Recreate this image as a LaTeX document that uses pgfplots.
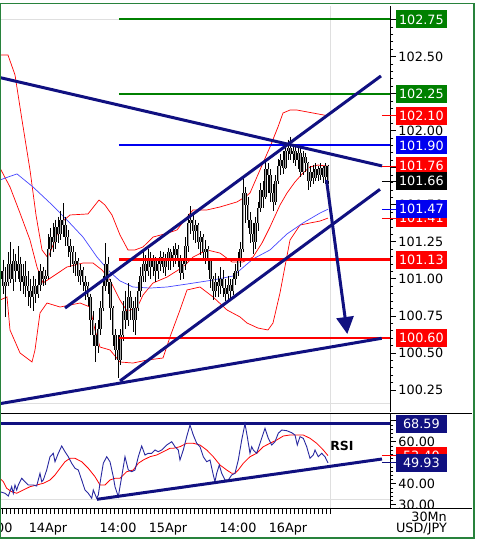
\documentclass[border=0pt]{standalone}
\usepackage{pgfplots}
\pgfplotsset{compat=1.18}
\usepackage{pgfplotstable}
\usepackage{fontspec}
\setmainfont{DejaVu Sans}
\usetikzlibrary{arrows.meta}

\definecolor{navy}{RGB}{16,16,128}
\definecolor{lvgreen}{RGB}{0,128,0}
\definecolor{lvblue}{RGB}{0,0,240}
\definecolor{lvred}{RGB}{255,0,0}
\definecolor{bandblue}{RGB}{70,70,255}
\definecolor{rsiblue}{RGB}{40,40,160}
\definecolor{framegreen}{RGB}{40,130,60}
\definecolor{candlegray}{RGB}{165,165,165}

\newcommand\lab{\fontsize{12.8bp}{14bp}\selectfont}

\pgfplotstableread{
x o h l c
-9.5 101.00 101.12 100.88 101.05
-9.0 101.05 101.13 100.90 100.95
-8.5 100.95 101.08 100.74 100.98
-8.0 100.98 101.18 100.95 101.10
-7.5 101.10 101.25 100.97 101.00
-7.0 101.00 101.20 100.92 101.12
-6.5 101.12 101.17 100.98 101.05
-6.0 101.05 101.22 101.00 101.10
-5.5 101.10 101.15 100.92 100.98
-5.0 100.98 101.10 100.90 101.02
-4.5 101.02 101.12 100.88 100.95
-4.0 100.95 101.05 100.82 100.92
-3.5 100.92 101.00 100.80 100.88
-3.0 100.88 101.02 100.78 100.95
-2.5 100.95 101.00 100.84 100.90
-2.0 100.90 101.05 100.87 100.96
-1.5 100.96 101.10 100.92 101.05
-1.0 101.05 101.08 100.95 101.00
-0.5 101.00 101.06 100.96 101.02
0.0 101.02 101.30 101.00 101.20
0.5 101.20 101.34 101.15 101.28
1.0 101.28 101.38 101.18 101.25
1.5 101.25 101.40 101.20 101.35
2.0 101.35 101.42 101.24 101.30
2.5 101.30 101.46 101.26 101.40
3.0 101.40 101.51 101.28 101.36
3.5 101.36 101.42 101.22 101.28
4.0 101.28 101.33 101.15 101.22
4.5 101.22 101.27 101.08 101.18
5.0 101.18 101.22 101.04 101.10
5.5 101.10 101.18 101.02 101.12
6.0 101.12 101.14 100.98 101.02
6.5 101.02 101.10 100.96 101.06
7.0 101.06 101.08 100.92 100.98
7.5 100.98 101.02 100.86 100.95
8.0 100.95 100.98 100.82 100.88
8.5 100.88 100.90 100.62 100.72
9.0 100.72 100.78 100.55 100.62
9.5 100.62 100.70 100.44 100.55
10.0 100.55 100.72 100.50 100.66
10.5 100.66 100.85 100.62 100.80
11.0 100.80 101.02 100.78 100.95
11.5 100.95 101.24 100.92 101.10
12.0 101.10 101.15 100.90 100.98
12.5 100.98 101.00 100.72 100.80
13.0 100.80 100.82 100.55 100.62
13.5 100.62 100.66 100.45 100.52
14.0 100.52 100.62 100.33 100.45
14.5 100.45 100.66 100.42 100.62
15.0 100.62 100.85 100.58 100.78
15.5 100.78 100.92 100.66 100.72
16.0 100.72 100.97 100.68 100.88
16.5 100.88 100.92 100.72 100.80
17.0 100.80 100.85 100.64 100.72
17.5 100.72 100.88 100.62 100.80
18.0 100.80 100.98 100.78 100.92
18.5 100.92 101.08 100.88 101.02
19.0 101.02 101.18 100.98 101.10
19.5 101.10 101.16 100.98 101.05
20.0 101.05 101.20 101.02 101.14
20.5 101.14 101.18 101.00 101.08
21.0 101.08 101.16 101.02 101.12
21.5 101.12 101.15 100.98 101.05
22.0 101.05 101.14 101.00 101.10
22.5 101.10 101.19 101.05 101.15
23.0 101.15 101.18 101.04 101.08
23.5 101.08 101.17 101.02 101.12
24.0 101.12 101.21 101.06 101.18
24.5 101.18 101.20 101.06 101.12
25.0 101.12 101.22 101.08 101.16
25.5 101.16 101.24 101.10 101.20
26.0 101.20 101.23 101.08 101.14
26.5 101.14 101.16 100.99 101.04
27.0 101.04 101.14 101.00 101.10
27.5 101.10 101.28 101.06 101.22
28.0 101.22 101.44 101.18 101.38
28.5 101.38 101.49 101.30 101.40
29.0 101.40 101.43 101.26 101.32
29.5 101.32 101.40 101.24 101.36
30.0 101.36 101.38 101.20 101.25
30.5 101.25 101.32 101.16 101.28
31.0 101.28 101.30 101.12 101.18
31.5 101.18 101.26 101.10 101.20
32.0 101.20 101.22 101.06 101.12
32.5 101.12 101.14 100.94 101.00
33.0 101.00 101.02 100.86 100.92
33.5 100.92 101.04 100.88 100.98
34.0 100.98 101.02 100.88 100.95
34.5 100.95 101.08 100.90 101.00
35.0 101.00 101.06 100.88 100.94
35.5 100.94 101.00 100.85 100.90
36.0 100.90 101.02 100.86 100.96
36.5 100.96 101.00 100.87 100.92
37.0 100.92 101.04 100.89 101.00
37.5 101.00 101.10 100.96 101.05
38.0 101.05 101.18 101.02 101.12
38.5 101.12 101.25 101.08 101.20
39.0 101.20 101.69 101.18 101.58
39.5 101.58 101.62 101.38 101.50
40.0 101.50 101.55 101.34 101.40
40.5 101.40 101.45 101.24 101.30
41.0 101.30 101.38 101.17 101.25
41.5 101.25 101.42 101.20 101.38
42.0 101.38 101.52 101.32 101.48
42.5 101.48 101.65 101.45 101.60
43.0 101.60 101.66 101.48 101.55
43.5 101.55 101.80 101.54 101.74
44.0 101.74 101.78 101.58 101.70
44.5 101.70 101.74 101.52 101.58
45.0 101.58 101.64 101.46 101.52
45.5 101.52 101.70 101.50 101.66
46.0 101.66 101.81 101.64 101.76
46.5 101.76 101.84 101.70 101.80
47.0 101.80 101.86 101.71 101.75
47.5 101.75 101.90 101.74 101.86
48.0 101.86 101.94 101.80 101.88
48.5 101.88 101.96 101.80 101.84
49.0 101.84 101.91 101.78 101.86
49.5 101.86 101.89 101.76 101.80
50.0 101.80 101.90 101.74 101.85
50.5 101.85 101.88 101.69 101.72
51.0 101.72 101.86 101.70 101.82
51.5 101.82 101.85 101.72 101.78
52.0 101.78 101.79 101.60 101.66
52.5 101.66 101.76 101.62 101.72
53.0 101.72 101.77 101.64 101.68
53.5 101.68 101.78 101.66 101.74
54.0 101.74 101.76 101.66 101.70
54.5 101.70 101.78 101.67 101.75
55.0 101.75 101.76 101.65 101.69
55.5 101.69 101.78 101.64 101.76
56.0 101.76 101.77 101.64 101.66
}\candles

\begin{document}
\begin{tikzpicture}
\useasboundingbox (0,0) rectangle (477bp,539bp);

% ---------------- price panel ----------------
\begin{axis}[
  at={(0bp,127bp)}, anchor=south west, scale only axis,
  width=390bp, height=406bp,
  xmin=-9.6, xmax=68.4, ymin=100.1016, ymax=102.8411,
  axis x line=none, axis y line=right,
  axis line style={-, line width=0.8bp},
  clip mode=individual,
  ytick={100.25,100.50,100.75,101.00,101.25,101.50,101.75,102.00,102.25,102.50,102.75},
  yticklabels={100.25,100.50,100.75,101.00,101.25,101.50,101.75,102.00,102.25,102.50,102.75},
  minor y tick num=4,
  tick align=outside, major tick length=6bp, minor tick length=3.3bp,
  tick style={black, line width=0.8bp},
  /pgf/number format/assume math mode=true,
  yticklabel style={font=\lab, anchor=west, inner sep=0pt, xshift=2.3bp},
]
% faint pane lines
\addplot[gray!25, line width=0.8bp] coordinates {(-9.6,102.75) (14.2,102.75)};
\addplot[gray!25, line width=0.8bp] coordinates {(-9.6,100.162) (68.4,100.162)};
\addplot[gray!25, line width=0.8bp] coordinates {(56.4,100.1016) (56.4,102.8411)};
% Bollinger bands and moving average
\addplot[lvred, line width=0.7bp] coordinates {(-9.6,102.510)(-8,102.510)(-6.6,102.376)(-5.2,102.072)(-3.6,101.735)(-2.4,101.431)(-1.2,101.195)(0,101.141)(1.4,101.262)(2.8,101.384)(4.4,101.431)(8,101.438)(9.4,101.498)(10.2,101.532)(11.4,101.498)(12.8,101.431)(14.4,101.296)(16,101.195)(17.4,101.195)(19,101.215)(21,101.282)(24,101.309)(25.8,101.330)(27.8,101.417)(29,101.465)(31.8,101.465)(34.4,101.485)(37.8,101.519)(39.4,101.552)(40.4,101.579)(42.4,101.735)(44.4,101.890)(46,102.025)(47,102.119)(48.4,102.139)(49.8,102.139)(53,102.119)(56,102.10)};
\addplot[lvred, line width=0.7bp] coordinates {(-9.6,101.748)(-7.6,101.620)(-5.6,101.444)(-3.6,101.262)(-2.2,101.080)(-1,100.972)(1.4,101.026)(3.8,101.080)(7,101.107)(9,101.107)(10.8,101.060)(12.4,100.992)(14.4,100.857)(15.8,100.783)(17.8,100.803)(19,100.891)(21,100.972)(23.8,101.012)(27,101.080)(29,101.147)(31.8,101.195)(34.4,101.174)(36.8,101.114)(39,101.114)(41,101.147)(42.8,101.242)(44.4,101.350)(46.4,101.498)(47.8,101.579)(49.4,101.654)(51,101.714)(52.4,101.755)(54,101.768)(56,101.76)};
\addplot[lvred, line width=0.7bp] coordinates {(-9.6,100.857)(-8.2,100.878)(-7.6,100.655)(-5.6,100.500)(-3.2,100.439)(-2.6,100.520)(-1.6,100.770)(-0.2,100.837)(2.4,100.810)(6.4,100.837)(8.4,100.810)(9.4,100.655)(10.4,100.540)(12.4,100.520)(14.4,100.439)(17,100.432)(19.8,100.452)(23,100.466)(24.4,100.608)(26.4,100.790)(27.8,100.925)(30.4,100.945)(33,100.878)(35.8,100.790)(38.4,100.743)(39.8,100.702)(42,100.668)(44,100.655)(45,100.702)(46.4,100.905)(48.4,101.262)(50.4,101.363)(52.4,101.377)(54.4,101.390)(56,101.41)};
\addplot[bandblue, line width=0.7bp] coordinates {(-9.6,101.667)(-8,101.687)(-6.2,101.708)(-3,101.620)(0.4,101.512)(3.8,101.397)(7,101.282)(9.8,101.147)(12.4,101.046)(14.4,100.986)(17,100.945)(20.4,100.938)(23.8,100.945)(27.8,100.965)(33,100.992)(37,101.019)(41,101.134)(44.4,101.195)(47.8,101.303)(51,101.377)(54.4,101.444)(56,101.47)};
% candles: wicks, then bodies
\addplot[draw=none, no markers,
  error bars/.cd, y dir=minus, y explicit, error mark=none,
  error bar style={line width=0.8bp, draw=black}]
  table[x=x, y=h, y error expr=\thisrow{h}-\thisrow{l}] {\candles};
\addplot[draw=none, no markers,
  error bars/.cd, y dir=minus, y explicit, error mark=none,
  error bar style={line width=2.2bp, draw=black}]
  table[x=x, y expr={max(\thisrow{o},\thisrow{c})}, y error expr={abs(\thisrow{o}-\thisrow{c})}] {\candles};
\addplot[draw=none, no markers,
  error bars/.cd, y dir=minus, y explicit, error mark=none,
  error bar style={line width=0.9bp, draw=candlegray}]
  table[x=x, y expr={max(\thisrow{o},\thisrow{c})}, y error expr={abs(\thisrow{o}-\thisrow{c})}] {\candles};
% horizontal levels
\addplot[lvgreen, line width=2bp] coordinates {(14.2,102.75) (68.4,102.75)};
\addplot[lvgreen, line width=2bp] coordinates {(14.2,102.25) (68.4,102.25)};
\addplot[lvblue, line width=2bp] coordinates {(14.2,101.90) (68.4,101.90)};
\addplot[lvred, line width=2.4bp] coordinates {(14.2,101.13) (68.4,101.13)};
\addplot[lvred, line width=2.4bp] coordinates {(14.2,100.60) (68.4,100.60)};
% trend lines
\addplot[navy, line width=3bp] coordinates {(-9.6,102.358) (66.8,101.762)};
\addplot[navy, line width=3bp] coordinates {(3.4,100.803) (66.6,102.369)};
\addplot[navy, line width=3bp] coordinates {(14.4,100.311) (66.4,101.604)};
\addplot[navy, line width=3bp] coordinates {(-9.6,100.158) (66.74,100.599)};
\addplot[navy, line width=3bp, -{Triangle[width=17bp,length=17bp]}] coordinates {(55.7,101.667) (59.86,100.628)};
% anchors for value boxes
\coordinate (P10275) at (axis cs:68.4,102.75);
\coordinate (P10225) at (axis cs:68.4,102.25);
\coordinate (P10210) at (axis cs:68.4,102.10);
\coordinate (P10190) at (axis cs:68.4,101.90);
\coordinate (P10176) at (axis cs:68.4,101.76);
\coordinate (P10166) at (axis cs:68.4,101.66);
\coordinate (P10147) at (axis cs:68.4,101.47);
\coordinate (P10141) at (axis cs:68.4,101.41);
\coordinate (P10113) at (axis cs:68.4,101.13);
\coordinate (P10060) at (axis cs:68.4,100.60);
\end{axis}

% ---------------- RSI panel ----------------
\begin{axis}[
  at={(0bp,31bp)}, anchor=south west, scale only axis,
  width=390bp, height=95bp,
  xmin=-9.6, xmax=68.4, ymin=28.476, ymax=73.714,
  axis x line=bottom, axis y line=right,
  axis line style={-, line width=0.8bp},
  clip mode=individual,
  xtick={-9.2,-8.4,...,56.5}, xticklabels={},
  extra x ticks={0,14,24,38,48},
  extra x tick labels={14Apr,14:00,15Apr,14:00,16Apr},
  extra x tick style={major tick length=0pt},
  ytick={30,40,50,60,70},
  yticklabels={30.00,40.00,50.00,60.00,70.00},
  minor y tick num=4,
  tick align=outside, major tick length=6bp, minor tick length=3.3bp,
  tick style={black, line width=0.8bp},
  /pgf/number format/assume math mode=true,
  yticklabel style={font=\lab, anchor=west, inner sep=0pt, xshift=2.3bp},
  xticklabel style={font=\lab, anchor=base, inner sep=0pt, yshift=-24bp},
]
\addplot[gray!25, line width=0.8bp] coordinates {(-9.6,32.6) (68.4,32.6)};
\addplot[gray!25, line width=0.8bp] coordinates {(56.4,28.476) (56.4,73.714)};
\addplot[navy, line width=3bp] coordinates {(-9.6,68.59) (68.4,68.59)};
\addplot[lvred, line width=0.8bp] coordinates {(-9.6,42.62)(-8.94,41.0)(-8.26,37.86)(-7.26,36.24)(-6.26,35.48)(-4.94,37.05)(-3.6,38.62)(-2.26,39.43)(-0.94,40.24)(0.4,41.81)(1.4,44.19)(2.4,47.38)(3.4,50.52)(4.4,52.14)(5.4,52.14)(6.74,50.52)(8.06,47.38)(9.4,43.38)(10.4,39.43)(11.4,39.43)(12.4,41.81)(13.4,42.62)(14.4,42.62)(15.74,45.76)(17.06,46.57)(18.06,49.76)(19.06,51.33)(20.4,52.9)(21.74,53.71)(23.06,55.29)(24.4,56.9)(25.06,56.9)(26.4,57.67)(27.74,59.29)(29.06,59.29)(30.4,58.48)(31.74,56.1)(33.06,52.9)(34.4,48.95)(35.74,46.57)(36.74,45.0)(37.4,45.0)(38.06,46.57)(39.06,49.76)(40.4,52.9)(41.74,54.52)(43.06,57.67)(44.4,59.29)(45.74,60.86)(47.06,62.76)(48.4,63.24)(51.06,63.24)(52.4,61.67)(53.74,59.29)(55.06,56.1)(56.0,53.4)};
\addplot[rsiblue, line width=0.9bp] coordinates {(-9.6,36.24)(-8.6,35.48)(-7.94,34.19)(-7.26,38.62)(-6.94,35.48)(-6.6,39.43)(-6.26,37.05)(-5.94,39.43)(-5.26,42.62)(-4.6,41.0)(-3.94,39.43)(-2.94,39.43)(-2.26,38.95)(-1.6,45.0)(-1.26,41.0)(-0.94,41.81)(-0.26,46.57)(0.4,52.9)(1.06,54.52)(1.4,50.52)(2.06,54.52)(2.74,58.0)(3.4,55.29)(4.06,52.9)(4.74,49.76)(5.4,47.38)(6.06,46.57)(6.74,41.81)(7.4,37.05)(8.06,35.48)(8.74,33.1)(9.06,37.05)(9.74,33.1)(10.06,34.67)(10.4,40.24)(11.06,49.76)(11.74,52.9)(12.4,50.52)(13.06,43.38)(13.4,38.62)(14.06,33.86)(14.74,43.38)(15.4,52.9)(16.06,46.57)(16.74,45.76)(17.4,46.57)(18.06,52.9)(18.74,58.0)(19.4,53.71)(20.06,54.52)(20.74,54.52)(21.4,56.1)(22.06,55.29)(22.74,56.1)(23.74,58.48)(24.74,60.05)(25.4,57.67)(26.06,56.1)(26.4,51.33)(27.06,56.1)(27.74,62.43)(28.4,68.0)(29.06,63.24)(29.74,59.29)(30.4,57.67)(31.06,52.9)(31.74,50.52)(32.4,51.33)(33.06,44.19)(33.4,41.0)(33.74,45.0)(34.26,48.95)(34.74,45.0)(35.4,41.81)(36.06,41.81)(36.74,44.19)(37.4,45.0)(38.06,51.33)(38.74,60.86)(39.4,68.59)(39.86,62.43)(40.4,54.52)(40.74,57.67)(41.06,56.1)(41.74,54.52)(42.4,59.29)(43.4,66.43)(44.06,61.67)(44.74,58.48)(45.4,60.05)(46.06,64.05)(46.74,65.62)(47.74,65.29)(48.74,64.33)(49.4,63.24)(49.86,58.48)(50.4,62.43)(51.06,61.67)(51.74,57.67)(52.4,52.14)(53.06,53.71)(53.4,56.1)(54.06,52.9)(54.74,54.52)(55.4,52.9)(56.0,49.93)};
\addplot[navy, line width=3bp] coordinates {(9.8,32.62) (66.8,51.81)};
\node[font=\bfseries\fontsize{12.5bp}{14bp}\selectfont] at (axis cs:58.8,58.0) {RSI};
\coordinate (R6859) at (axis cs:68.4,68.59);
\coordinate (R5340) at (axis cs:68.4,53.4);
\coordinate (R4993) at (axis cs:68.4,49.93);
\coordinate (T14Apr) at (axis cs:0,28.476);
\end{axis}

% first (cut) time label, one day before 14Apr 14:00
\path (T14Apr) ++(-54bp,0) ++(0,-24bp) node[font=\lab, anchor=base, inner sep=0pt] {14:00};

% clip the half-hidden 30.00 label, panel separators
\fill[white] (391bp,26bp) rectangle (472bp,30.6bp);
\draw[black, line width=0.8bp] (0,126bp) -- (472bp,126bp);
\draw[black, line width=0.8bp] (0,31bp) -- (472bp,31bp);

% small indicator ticks across the axis
\draw[lvred, line width=1bp] ([xshift=-8bp]P10210) -- ([xshift=6bp]P10210);
\draw[lvred, line width=1bp] ([xshift=-8bp]P10176) -- ([xshift=6bp]P10176);
\draw[black, line width=1bp] ([xshift=-8bp]P10166) -- ([xshift=6bp]P10166);
\draw[lvblue, line width=1bp] ([xshift=-8bp]P10147) -- ([xshift=6bp]P10147);
\draw[lvred, line width=1bp] ([xshift=-8bp]P10141) -- ([xshift=6bp]P10141);
\draw[lvred, line width=1bp] ([xshift=-8bp]R5340) -- ([xshift=6bp]R5340);
\draw[navy, line width=1bp] ([xshift=-8bp]R4993) -- ([xshift=6bp]R4993);

% value boxes
\tikzset{lbl/.style={anchor=west, xshift=5.7bp, text=white, font=\lab, inner sep=0pt, minimum height=18bp, minimum width=51bp}}
\node[lbl, fill=lvgreen] at (P10275) {102.75};
\node[lbl, fill=lvgreen] at (P10225) {102.25};
\node[lbl, fill=lvred] at (P10210) {102.10};
\node[lbl, fill=lvblue] at (P10190) {101.90};
\node[lbl, fill=lvred] at (P10176) {101.76};
\node[lbl, fill=black] at (P10166) {101.66};
\node[lbl, fill=lvred] at (P10141) {101.41};
\node[lbl, fill=lvblue] at (P10147) {101.47};
\node[lbl, fill=lvred] at (P10113) {101.13};
\node[lbl, fill=lvred] at (P10060) {100.60};
\node[lbl, fill=navy] at (R6859) {68.59};
\node[lbl, fill=lvred] at (R5340) {53.40};
\node[lbl, fill=navy] at (R4993) {49.93};

\node[anchor=base east, font=\lab, inner sep=0pt] at (447bp,17.3bp) {30Mn};
\node[anchor=base east, font=\lab, inner sep=0pt] at (447bp,6.5bp) {USD/JPY};

\draw[framegreen, line width=1.3bp] (0.65bp,1bp) rectangle (474bp,535.7bp);
\end{tikzpicture}
\end{document}
